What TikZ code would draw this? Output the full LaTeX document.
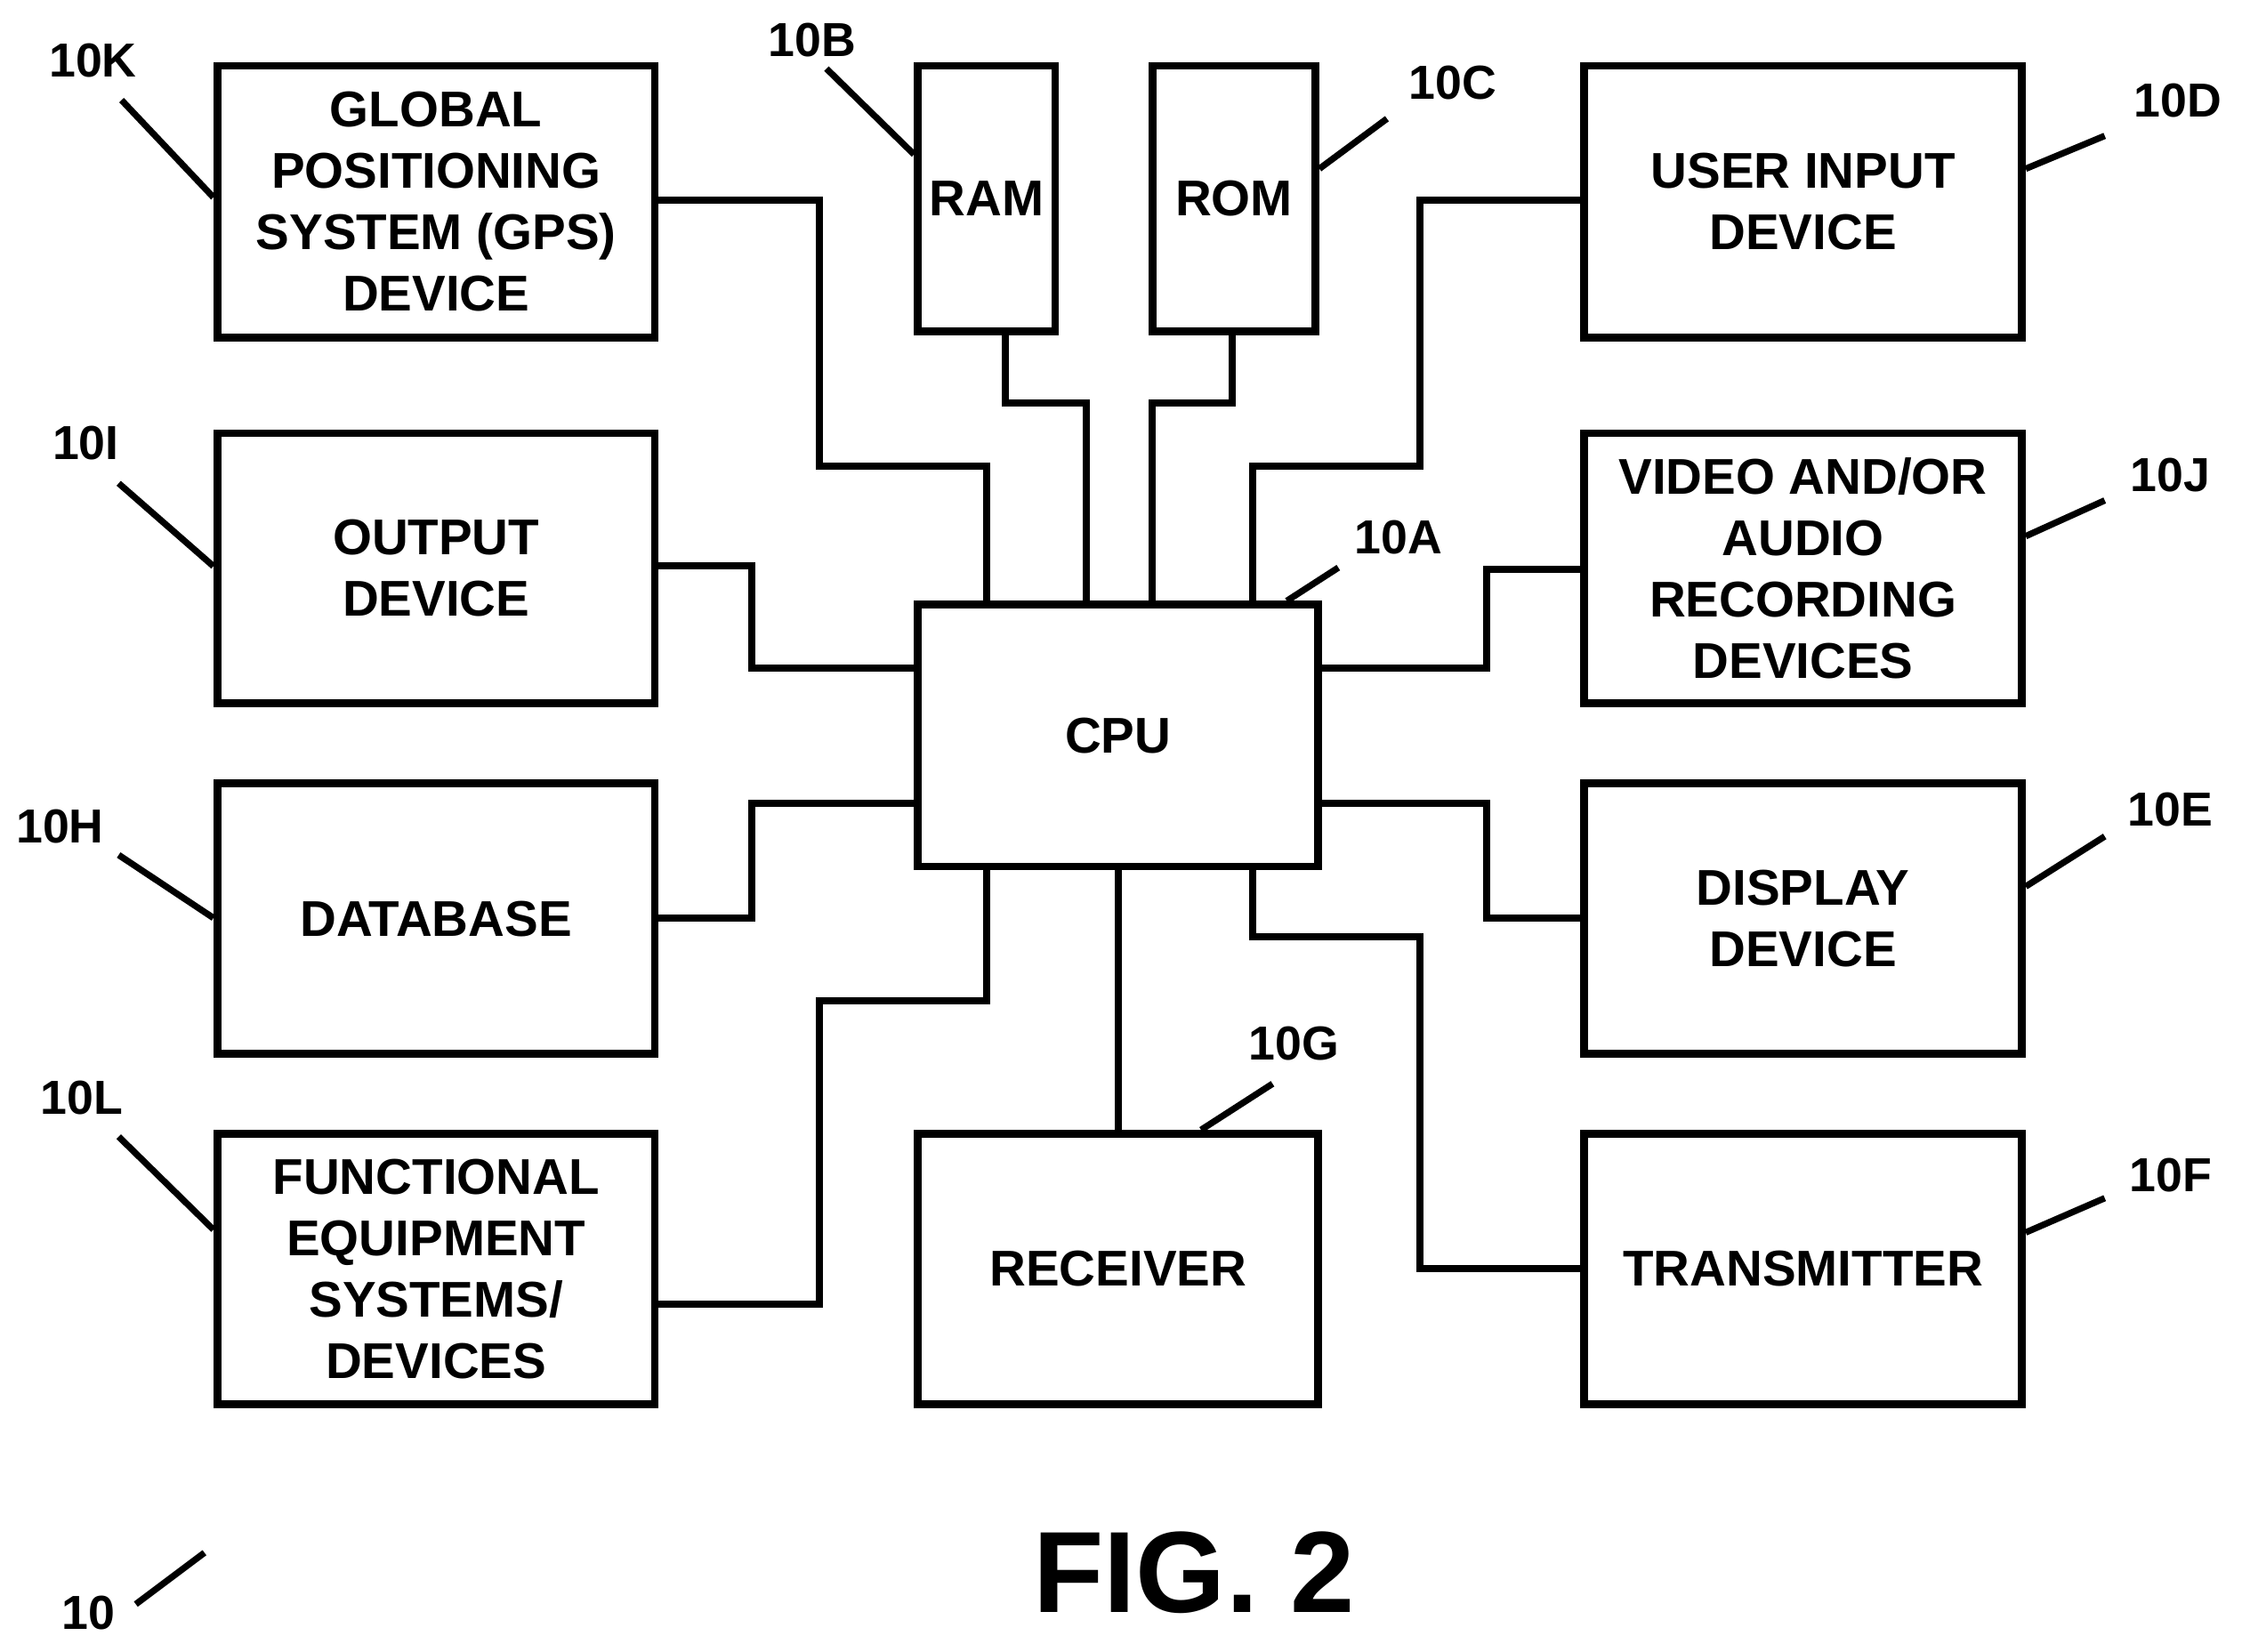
\documentclass[tikz,border=0pt]{standalone}
\usepackage{fontspec}
\setmainfont{Liberation Sans}
\begin{document}
\begin{tikzpicture}[x=0.1mm,y=-0.1mm,line width=0.5mm,line join=miter,
  box/.style={draw,line width=0.55mm,align=center,inner sep=0pt,font=\fontsize{10}{12.2}\selectfont\bfseries},
  lab/.style={font=\fontsize{9.5}{11}\selectfont\bfseries,inner sep=0pt},
  lead/.style={line width=0.45mm}]
\useasboundingbox (0,0) rectangle (1568,1155);
\def\bx#1#2#3#4#5#6{\node[box,minimum width=#4*0.1mm-#2*0.1mm,minimum height=#5*0.1mm-#3*0.1mm] (#1) at ({(#2+#4)/2},{(#3+#5)/2}) {#6};}
\bx{gps}{152}{46}{458}{236}{GLOBAL\\POSITIONING\\SYSTEM (GPS)\\DEVICE}
\bx{ram}{642}{46}{738}{232}{RAM}
\bx{rom}{806}{46}{920}{232}{ROM}
\bx{uin}{1108}{46}{1414}{236}{USER INPUT\\DEVICE}
\bx{out}{152}{303}{458}{492}{OUTPUT\\DEVICE}
\bx{vid}{1108}{303}{1414}{492}{VIDEO AND/OR\\AUDIO\\RECORDING\\DEVICES}
\bx{cpu}{642}{423}{922}{606}{CPU}
\bx{db}{152}{548}{458}{737}{DATABASE}
\bx{dsp}{1108}{548}{1414}{737}{DISPLAY\\DEVICE}
\bx{fun}{152}{793}{458}{982}{FUNCTIONAL\\EQUIPMENT\\SYSTEMS/\\DEVICES}
\bx{rcv}{642}{793}{922}{982}{RECEIVER}
\bx{trn}{1108}{793}{1414}{982}{TRANSMITTER}
% connectors
\draw (gps.east|-0,140) -- (573,140) -- (573,326) -- (690,326) -- (690,0|-cpu.north);
\draw (703,0|-ram.south) -- (703,282) -- (760,282) -- (760,0|-cpu.north);
\draw (862,0|-rom.south) -- (862,282) -- (806,282) -- (806,0|-cpu.north);
\draw (uin.west|-0,140) -- (993,140) -- (993,326) -- (876,326) -- (876,0|-cpu.north);
\draw (out.east|-0,396) -- (526,396) -- (526,467) -- (cpu.west|-0,467);
\draw (vid.west|-0,398) -- (1040,398) -- (1040,467) -- (cpu.east|-0,467);
\draw (db.east|-0,642) -- (526,642) -- (526,562) -- (cpu.west|-0,562);
\draw (dsp.west|-0,642) -- (1040,642) -- (1040,562) -- (cpu.east|-0,562);
\draw (fun.east|-0,912) -- (573,912) -- (573,700) -- (690,700) -- (690,0|-cpu.south);
\draw (cpu.south) -- (rcv.north);
\draw (trn.west|-0,887) -- (993,887) -- (993,655) -- (876,655) -- (876,0|-cpu.south);
% labels
\node[lab] (l10K) at (65,42) {10K}; \draw[lead] (85,70) -- (gps.west|-0,138);
\node[lab] (l10B) at (568,28) {10B}; \draw[lead] (578,48) -- (ram.west|-0,108);
\node[lab] (l10C) at (1016,58) {10C}; \draw[lead] (970,83) -- (rom.east|-0,118);
\node[lab] (l10D) at (1523,70) {10D}; \draw[lead] (1472,95) -- (uin.east|-0,118);
\node[lab] (l10I) at (60,310) {10I}; \draw[lead] (83,338) -- (out.west|-0,396);
\node[lab] (l10J) at (1518,332) {10J}; \draw[lead] (1472,350) -- (vid.east|-0,375);
\node[lab] (l10A) at (978,376) {10A}; \draw[lead] (936,397) -- (900,0|-cpu.north);
\node[lab] (l10H) at (42,578) {10H}; \draw[lead] (83,598) -- (db.west|-0,642);
\node[lab] (l10E) at (1518,566) {10E}; \draw[lead] (1472,585) -- (dsp.east|-0,620);
\node[lab] (l10G) at (905,730) {10G}; \draw[lead] (890,758) -- (840,0|-rcv.north);
\node[lab] (l10L) at (57,768) {10L}; \draw[lead] (83,795) -- (fun.west|-0,860);
\node[lab] (l10F) at (1518,822) {10F}; \draw[lead] (1472,838) -- (trn.east|-0,862);
\node[lab] (l10) at (62,1128) {10}; \coordinate (c10) at (143,1086); \draw[lead] (c10) -- (95,1122);
\node[font=\fontsize{23}{26}\selectfont\bfseries,inner sep=0pt] (fig) at (835,1100) {FIG. 2};
\end{tikzpicture}
\end{document}
